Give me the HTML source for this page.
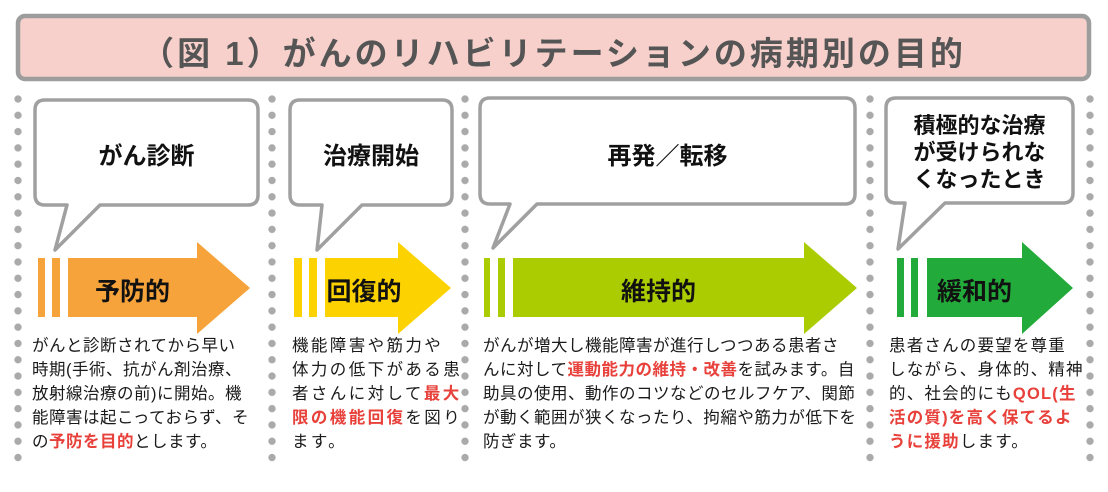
<!DOCTYPE html>
<html><head><meta charset="utf-8"><style>
body{margin:0;width:1108px;height:492px;background:#fff;overflow:hidden;position:relative;font-family:"Liberation Sans","Noto Sans CJK JP",sans-serif}
.t{position:absolute;color:#1a1a1a;font-size:16.5px;line-height:24px;white-space:nowrap}
.r{color:#e8403a;font-weight:bold}
.b{position:absolute;font-weight:bold;color:#111;text-align:center;white-space:nowrap}
.dl{position:absolute;top:94px;width:10px;height:376px;background:radial-gradient(circle at 5px 5px,#aaa 3.4px,transparent 3.9px);background-size:10px 16.3px}
</style></head><body>
<svg width="1108" height="492" style="position:absolute;left:0;top:0">
<rect x="18" y="16" width="1071" height="63" rx="7" fill="#f7d0cb" stroke="#9d9d9d" stroke-width="4.5"/>
<g fill="#fff" stroke="#a0a0a0" stroke-width="3.5" stroke-linejoin="round">
<path d="M45,100 H248 Q258,100 258,110 V195 Q258,205 248,205 H100 L55,250 L67,205 H45 Q35,205 35,195 V110 Q35,100 45,100 Z"/>
<path d="M300,100 H442 Q452,100 452,110 V195 Q452,205 442,205 H362 L317,250 L322,205 H300 Q290,205 290,195 V110 Q290,100 300,100 Z"/>
<path d="M490,98 H845 Q855,98 855,108 V194 Q855,204 845,204 H537 L493,248 L510,204 H490 Q480,204 480,194 V108 Q480,98 490,98 Z"/>
<path d="M896,98 H1063 Q1073,98 1073,108 V193 Q1073,203 1063,203 H945 L898,249 L905,203 H896 Q886,203 886,193 V108 Q886,98 896,98 Z"/>
</g>
<g fill="#f5a33a"><rect x="38" y="258" width="7" height="59"/><rect x="52" y="258" width="8" height="59"/><polygon points="68,258 197,258 197,242 250,288 197,334 197,317 68,317"/></g>
<g fill="#fcd200"><rect x="294" y="258" width="8" height="59"/><rect x="309" y="258" width="8" height="59"/><polygon points="325,258 398,258 398,242 451,288 398,334 398,317 325,317"/></g>
<g fill="#aacc00"><rect x="484" y="258" width="6" height="59"/><rect x="498" y="258" width="7" height="59"/><polygon points="513,258 804,258 804,242 857,288 804,334 804,317 513,317"/></g>
<g fill="#22ab3a"><rect x="897" y="258" width="7" height="59"/><rect x="911" y="258" width="7" height="59"/><polygon points="927,258 1022,258 1022,242 1073,288 1022,334 1022,317 927,317"/></g>
</svg>
<div class="dl" style="left:13px"></div>
<div class="dl" style="left:267px"></div>
<div class="dl" style="left:460px"></div>
<div class="dl" style="left:865px"></div>
<div class="dl" style="left:1085px"></div>
<div class="b" style="left:18px;width:1071px;top:27px;font-size:33px;color:#555;letter-spacing:3px">（図 1）がんのリハビリテーションの病期別の目的</div>
<div class="b" style="left:35px;width:223px;top:136px;font-size:24px">がん診断</div>
<div class="b" style="left:290px;width:162px;top:136px;font-size:24px">治療開始</div>
<div class="b" style="left:480px;width:375px;top:136px;font-size:24px">再発／転移</div>
<div class="b" style="left:886px;width:187px;top:112px;font-size:22px;line-height:27px">積極的な治療<br>が受けられな<br>くなったとき</div>
<div class="b" style="left:68px;width:129px;top:272px;font-size:25px">予防的</div>
<div class="b" style="left:320px;width:88px;top:272px;font-size:25px">回復的</div>
<div class="b" style="left:513px;width:291px;top:272px;font-size:25px">維持的</div>
<div class="b" style="left:927px;width:95px;top:272px;font-size:25px">緩和的</div>
<div class="t" style="left:32px;top:334px;letter-spacing:0.5px">がんと診断されてから早い<br>時期(手術、抗がん剤治療、<br>放射線治療の前)に開始。機<br>能障害は起こっておらず、そ<br>の<span class="r">予防を目的</span>とします。</div>
<div class="t" style="left:292px;top:334px;letter-spacing:2.4px">機能障害や筋力や<br>体力の低下がある患<br>者さんに対して<span class="r">最大<br>限の機能回復</span>を図り<br>ます。</div>
<div class="t" style="left:483px;top:334px;letter-spacing:0.5px">がんが増大し機能障害が進行しつつある患者さ<br>んに対して<span class="r">運動能力の維持・改善</span>を試みます。自<br>助具の使用、動作のコツなどのセルフケア、関節<br>が動く範囲が狭くなったり、拘縮や筋力が低下を<br>防ぎます。</div>
<div class="t" style="left:889px;top:334px;letter-spacing:1.2px">患者さんの要望を尊重<br>しながら、身体的、精神<br>的、社会的にも<span class="r">QOL(生<br>活の質)を高く保てるよ<br>うに援助</span>します。</div>
</body></html>
